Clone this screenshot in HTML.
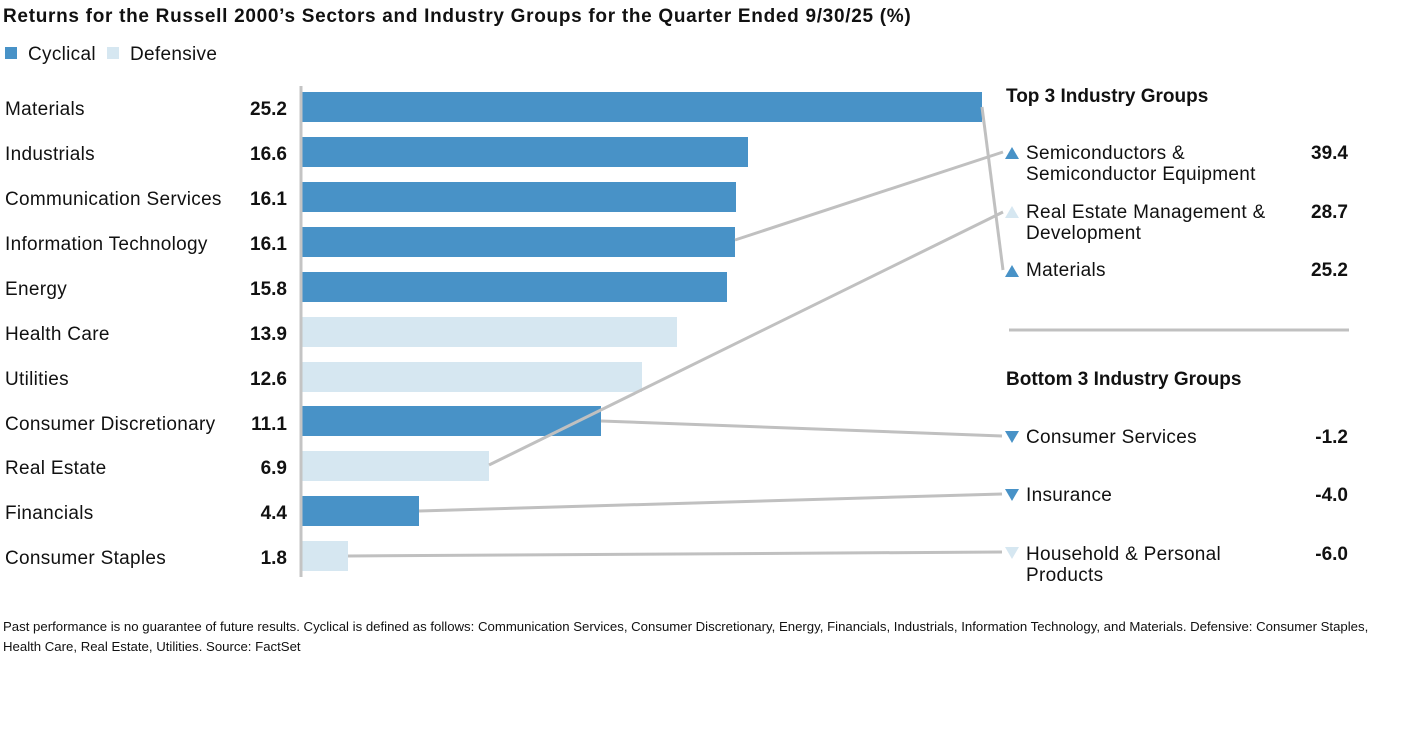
<!DOCTYPE html>
<html><head><meta charset="utf-8"><style>
body{margin:0;background:#fff;width:1416px;height:745px;overflow:hidden;font-family:"Liberation Sans",sans-serif}
</style></head><body>
<svg width="1416" height="745" xmlns="http://www.w3.org/2000/svg" font-family="Liberation Sans, sans-serif">
<text x="3" y="22" font-size="19" font-weight="bold" fill="#111" letter-spacing="0.7">Returns for the Russell 2000’s Sectors and Industry Groups for the Quarter Ended 9/30/25 (%)</text>
<rect x="5" y="47" width="12" height="12" fill="#4892c7"/>
<text x="28" y="60" font-size="19" fill="#111" letter-spacing="0.3">Cyclical</text>
<rect x="107" y="47" width="12" height="12" fill="#d6e7f1"/>
<text x="130" y="60" font-size="19" fill="#111" letter-spacing="0.3">Defensive</text>
<g font-size="19" fill="#111" letter-spacing="0.3">
<text x="5" y="115">Materials</text>
<text x="5" y="160">Industrials</text>
<text x="5" y="205">Communication Services</text>
<text x="5" y="250">Information Technology</text>
<text x="5" y="295">Energy</text>
<text x="5" y="340">Health Care</text>
<text x="5" y="385">Utilities</text>
<text x="5" y="430">Consumer Discretionary</text>
<text x="5" y="474">Real Estate</text>
<text x="5" y="519">Financials</text>
<text x="5" y="564">Consumer Staples</text>
</g>
<g font-size="19" font-weight="bold" fill="#111" text-anchor="end">
<text x="287" y="115">25.2</text><text x="287" y="160">16.6</text><text x="287" y="205">16.1</text>
<text x="287" y="250">16.1</text><text x="287" y="295">15.8</text><text x="287" y="340">13.9</text>
<text x="287" y="385">12.6</text><text x="287" y="430">11.1</text><text x="287" y="474">6.9</text>
<text x="287" y="519">4.4</text><text x="287" y="564">1.8</text>
</g>
<g>
<rect x="302" y="92" width="680" height="30" fill="#4892c7"/>
<rect x="302" y="137" width="446" height="30" fill="#4892c7"/>
<rect x="302" y="182" width="434" height="30" fill="#4892c7"/>
<rect x="302" y="227" width="433" height="30" fill="#4892c7"/>
<rect x="302" y="272" width="425" height="30" fill="#4892c7"/>
<rect x="302" y="317" width="375" height="30" fill="#d6e7f1"/>
<rect x="302" y="362" width="340" height="30" fill="#d6e7f1"/>
<rect x="302" y="406" width="299" height="30" fill="#4892c7"/>
<rect x="302" y="451" width="187" height="30" fill="#d6e7f1"/>
<rect x="302" y="496" width="117" height="30" fill="#4892c7"/>
<rect x="302" y="541" width="46" height="30" fill="#d6e7f1"/>
</g>
<line x1="301" y1="86" x2="301" y2="577" stroke="#c4c4c4" stroke-width="3"/>
<g stroke="#c0c0c0" stroke-width="3" fill="none">
<line x1="982" y1="107" x2="1003" y2="270"/>
<line x1="735" y1="240" x2="1003" y2="152"/>
<line x1="489" y1="465" x2="1003" y2="212"/>
<line x1="601" y1="421" x2="1002" y2="436"/>
<line x1="419" y1="511" x2="1002" y2="494"/>
<line x1="348" y1="556" x2="1002" y2="552"/>
<line x1="1009" y1="330" x2="1349" y2="330"/>
</g>
<text x="1006" y="102" font-size="19" font-weight="bold" fill="#111">Top 3 Industry Groups</text>
<text x="1006" y="385" font-size="19" font-weight="bold" fill="#111">Bottom 3 Industry Groups</text>
<polygon points="1005,159 1019,159 1012,147" fill="#4892c7"/>
<polygon points="1005,218 1019,218 1012,206" fill="#d6e7f1"/>
<polygon points="1005,277 1019,277 1012,265" fill="#4892c7"/>
<polygon points="1005,431 1019,431 1012,443" fill="#4892c7"/>
<polygon points="1005,489 1019,489 1012,501" fill="#4892c7"/>
<polygon points="1005,547 1019,547 1012,559" fill="#d6e7f1"/>
<g font-size="19" fill="#111" letter-spacing="0.3">
<text x="1026" y="159">Semiconductors &amp;</text><text x="1026" y="180">Semiconductor Equipment</text>
<text x="1026" y="218">Real Estate Management &amp;</text><text x="1026" y="239">Development</text>
<text x="1026" y="276">Materials</text>
<text x="1026" y="443">Consumer Services</text>
<text x="1026" y="501">Insurance</text>
<text x="1026" y="560">Household &amp; Personal</text><text x="1026" y="581">Products</text>
</g>
<g font-size="19" font-weight="bold" fill="#111" text-anchor="end">
<text x="1348" y="159">39.4</text><text x="1348" y="218">28.7</text><text x="1348" y="276">25.2</text>
<text x="1348" y="443">-1.2</text><text x="1348" y="501">-4.0</text><text x="1348" y="560">-6.0</text>
</g>
<g font-size="13.2" fill="#111">
<text x="3" y="631">Past performance is no guarantee of future results. Cyclical is defined as follows: Communication Services, Consumer Discretionary, Energy, Financials, Industrials, Information Technology, and Materials. Defensive: Consumer Staples,</text>
<text x="3" y="651">Health Care, Real Estate, Utilities. Source: FactSet</text>
</g>
</svg>
</body></html>
